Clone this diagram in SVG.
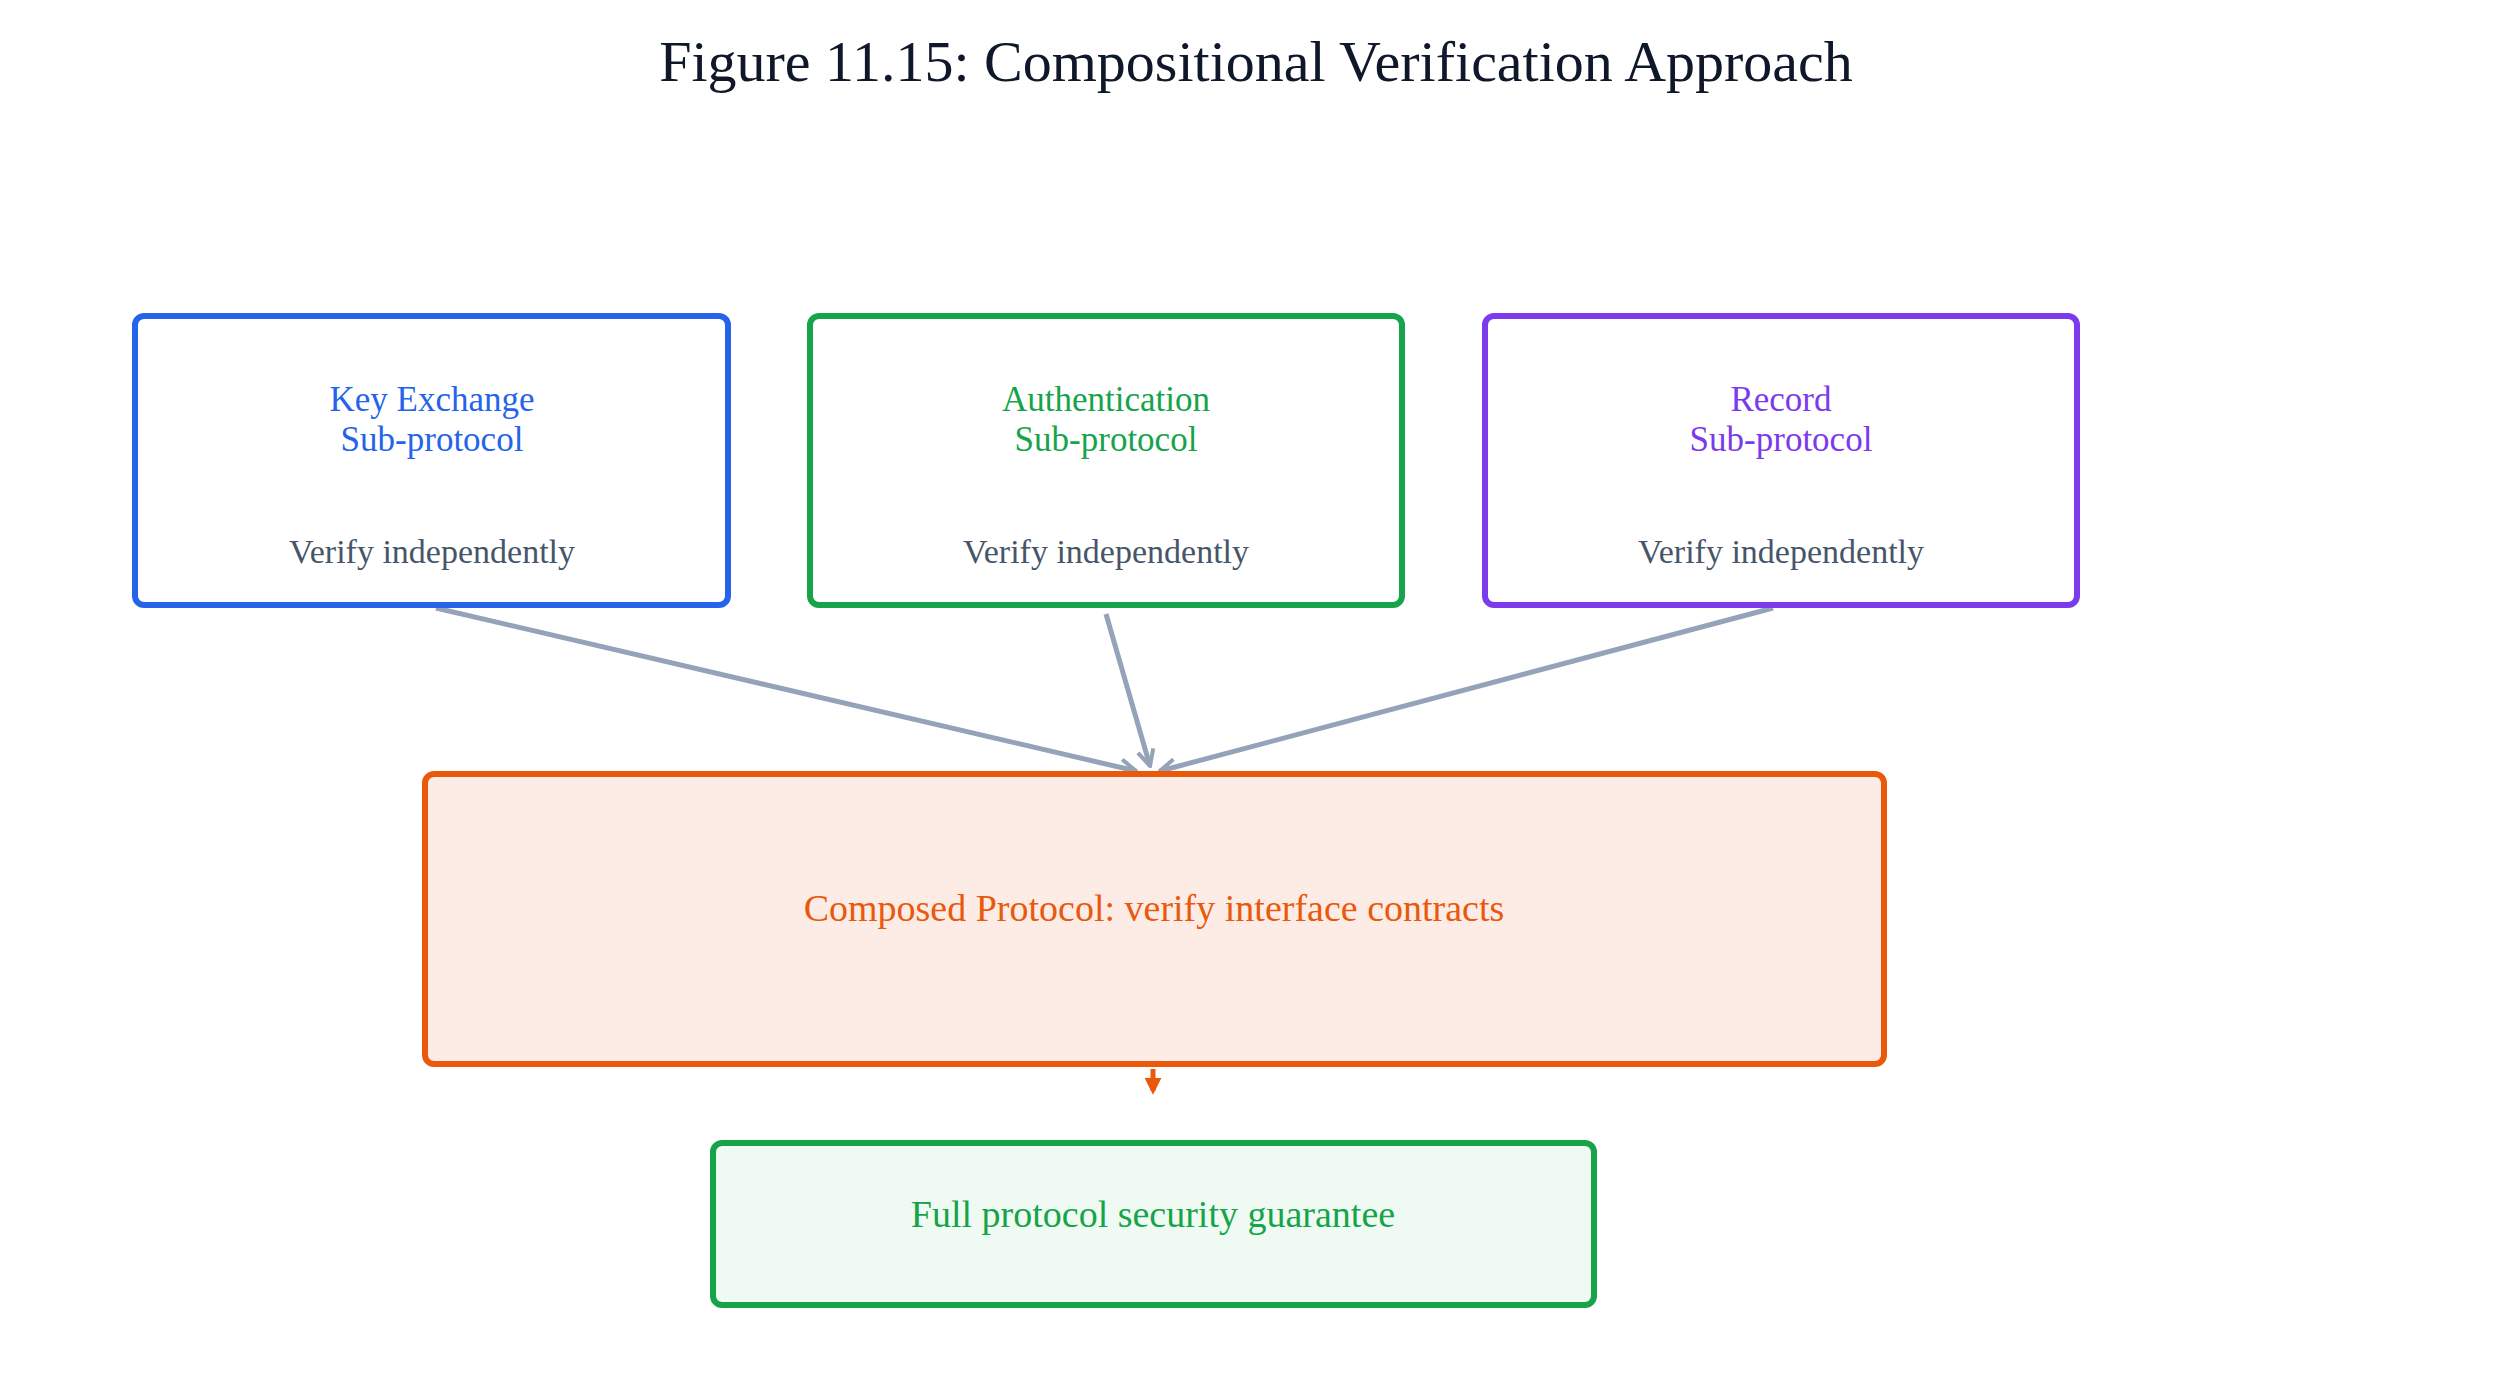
<svg xmlns="http://www.w3.org/2000/svg" width="2500" height="1381" viewBox="0 0 2500 1381">
<style>
text{font-family:"Liberation Serif","DejaVu Serif",serif;text-anchor:middle}
.box{stroke-width:6;fill:#fff}
.t{font-size:35px}
.sub{font-size:34px;fill:#475569}
.c{stroke:#94a3b8;stroke-width:5;fill:none;marker-end:url(#ag)}
</style>
<defs>
<marker id="ag" viewBox="0 0 10 10" refX="9" refY="5" markerWidth="4" markerHeight="4" orient="auto"><path d="M1,1 L9,5 L1,9" fill="none" stroke="#94a3b8" stroke-width="2"/></marker>
<marker id="ao" viewBox="0 0 10 10" refX="8" refY="5" markerWidth="3.5" markerHeight="3.5" orient="auto"><path d="M1,1 L9,5 L1,9 Z" fill="#ea580c" stroke="#ea580c" stroke-width="1"/></marker>
</defs>
<rect width="2500" height="1381" fill="#fff"/>
<text x="1256" y="81" font-size="58" fill="#0f172a">Figure 11.15: Compositional Verification Approach</text>
<g id="connectors">
<path class="c" d="M436,608 L1136,771"/>
<path class="c" d="M1106,614 L1150,766"/>
<path class="c" d="M1773,608 L1160,771"/>
<path d="M1153,1069 L1153,1091" stroke="#ea580c" stroke-width="5" marker-end="url(#ao)"/>
</g>
<g id="key">
<rect class="box" x="135" y="316" width="593" height="289" rx="9" stroke="#2563eb"/>
<text class="t" x="432" y="411" fill="#2563eb">Key Exchange</text>
<text class="t" x="432" y="451" fill="#2563eb">Sub-protocol</text>
<text class="sub" x="432" y="563">Verify independently</text>
</g>
<g id="auth">
<rect class="box" x="810" y="316" width="592" height="289" rx="9" stroke="#16a34a"/>
<text class="t" x="1106" y="411" fill="#16a34a">Authentication</text>
<text class="t" x="1106" y="451" fill="#16a34a">Sub-protocol</text>
<text class="sub" x="1106" y="563">Verify independently</text>
</g>
<g id="record">
<rect class="box" x="1485" y="316" width="592" height="289" rx="9" stroke="#7c3aed"/>
<text class="t" x="1781" y="411" fill="#7c3aed">Record</text>
<text class="t" x="1781" y="451" fill="#7c3aed">Sub-protocol</text>
<text class="sub" x="1781" y="563">Verify independently</text>
</g>
<g id="composed">
<rect x="425" y="774" width="1459" height="290" rx="9" fill="#fcece5" stroke="#ea580c" stroke-width="6"/>
<text x="1154" y="921" font-size="38" fill="#ea580c">Composed Protocol: verify interface contracts</text>
</g>
<g id="full">
<rect x="713" y="1143" width="881" height="162" rx="9" fill="#effbf2" stroke="#16a34a" stroke-width="6"/>
<text x="1153" y="1227" font-size="38" fill="#16a34a">Full protocol security guarantee</text>
</g>
</svg>
